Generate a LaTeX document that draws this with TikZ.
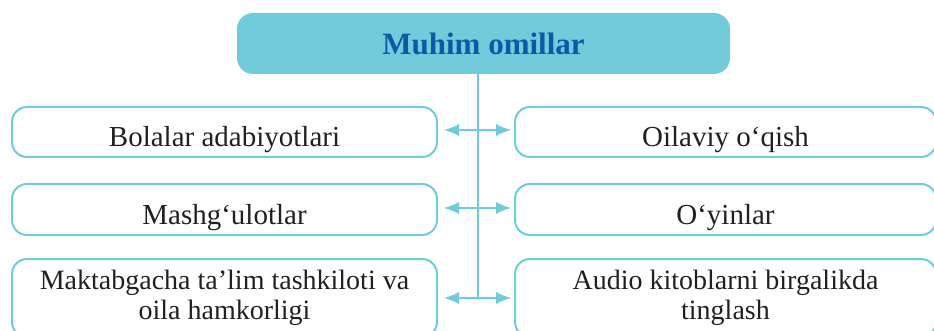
\documentclass[tikz,border=0pt]{standalone}
\usepackage{fontspec}
\setmainfont{Liberation Serif}
\usepackage{tikz}
\usetikzlibrary{arrows.meta, positioning}
\definecolor{themecyan}{RGB}{112, 204, 218}
\definecolor{themeblue}{RGB}{12, 90, 165}
\definecolor{themetext}{RGB}{35, 31, 32}

\begin{document}
\begin{tikzpicture}[x=1pt, y=-1pt,
    item/.style={draw=themecyan, line width=2pt, rounded corners=15pt, text=themetext,
        align=center, inner sep=0pt, minimum height=50pt, text height=30pt, text depth=0pt,
        font=\fontsize{29}{30}\selectfont},
    leftbox/.style={item, minimum width=425pt},
    rightbox/.style={item, minimum width=421pt},
    link/.style={{Latex[length=15pt, width=12pt]}-{Latex[length=15pt, width=12pt]},
        themecyan, line width=1.3pt, shorten <=6pt, shorten >=3pt}]
    \useasboundingbox (0,0) rectangle (934,331);
    \node[fill=themecyan, rounded corners=16pt, minimum width=493pt, minimum height=61pt,
        text height=23pt, text depth=0pt, inner sep=0pt,
        text=themeblue, font=\bfseries\fontsize{31}{32}\selectfont] (title) at (483.5,43.5) {Muhim omillar};
    \node[leftbox] (lit) at (224.5,132) {Bolalar adabiyotlari};
    \node[leftbox, minimum height=51pt] (lessons) at (224.5,209.5) {Mashg‘ulotlar};
    \node[leftbox, minimum height=78pt, text height=, text depth=, yshift=-3pt,
        font=\fontsize{28}{30}\selectfont] (school) at (224.5,295)
        {Maktabgacha ta’lim tashkiloti va\\oila hamkorligi};
    \node[rightbox] (family) at (725.5,132) {Oilaviy o‘qish};
    \node[rightbox, minimum height=51pt] (games) at (725.5,209.5) {O‘yinlar};
    \node[rightbox, minimum height=78pt, text height=, text depth=, yshift=-3pt,
        font=\fontsize{28}{30}\selectfont] (audio) at (725.5,295)
        {Audio kitoblarni birgalikda\\tinglash};
    \coordinate (spinebot) at (478,298);
    \draw[themecyan, line width=2pt] (title.south -| spinebot) -- (spinebot);
    \draw[link] ([yshift=2pt]lit.east) -- ([yshift=2pt]family.west);
    \draw[link] ([yshift=1.5pt]lessons.east) -- ([yshift=1.5pt]games.west);
    \draw[link] (school.east) -- (audio.west);
\end{tikzpicture}
\end{document}
